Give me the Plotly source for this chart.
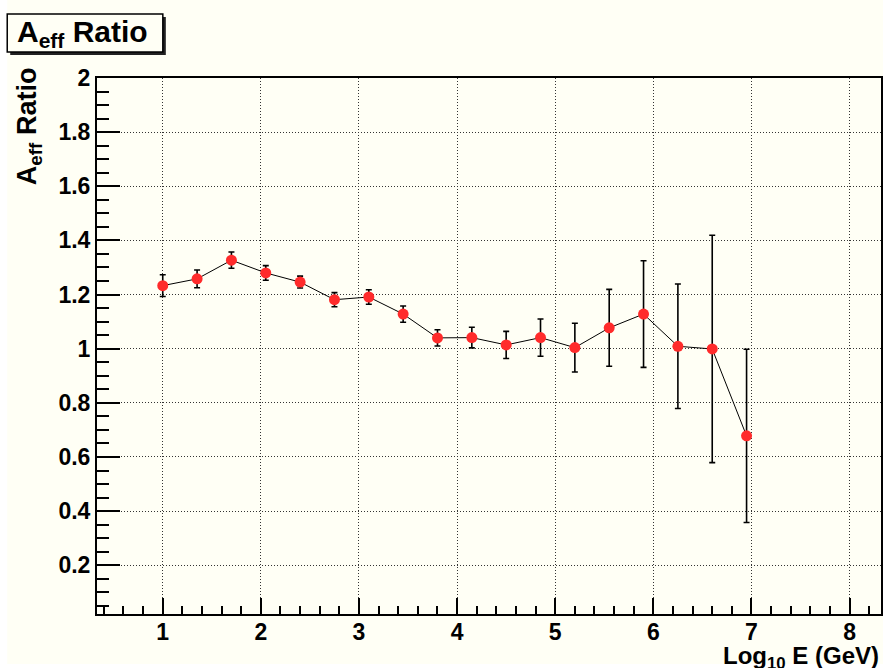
import plotly.graph_objects as go

# Effective-area ratio versus log10 of energy
log_e = [1.0, 1.35, 1.7, 2.05, 2.4, 2.75, 3.1, 3.45, 3.8, 4.15, 4.5, 4.85,
         5.2, 5.55, 5.9, 6.25, 6.6, 6.95]
ratio = [1.233, 1.258, 1.327, 1.280, 1.246, 1.181, 1.191, 1.128, 1.040, 1.041,
         1.014, 1.041, 1.004, 1.077, 1.128, 1.009, 0.999, 0.678]
ratio_err = [0.040, 0.033, 0.030, 0.027, 0.022, 0.026, 0.027, 0.030, 0.030, 0.038,
             0.050, 0.069, 0.090, 0.142, 0.197, 0.230, 0.420, 0.320]

x_tickvals = [1, 2, 3, 4, 5, 6, 7, 8]
x_ticktext = ["1", "2", "3", "4", "5", "6", "7", "8"]
y_tickvals = [0.2, 0.4, 0.6, 0.8, 1.0, 1.2, 1.4, 1.6, 1.8, 2.0]
y_ticktext = ["0.2", "0.4", "0.6", "0.8", "1", "1.2", "1.4", "1.6", "1.8", "2"]

title_text = "A<sub>eff</sub> Ratio"
x_title = "Log<sub>10</sub> E (GeV)"
y_title = "A<sub>eff</sub> Ratio"

CREAM = "#fffff5"
FONT = "Liberation Sans"

# frame geometry in pixels
W_PX, H_PX = 885, 668
L, R, T, B = 97, 883, 78, 614
PW, PH = R - L, B - T


def px_x(p):
    return (p - L) / PW


def px_y(p):
    return (B - p) / PH


fig = go.Figure()
fig.add_trace(go.Scatter(
    x=log_e, y=ratio,
    mode="lines+markers",
    line=dict(color="black", width=1),
    marker=dict(color="#ff2b2b", size=11, line=dict(width=0)),
    error_y=dict(type="data", array=ratio_err, visible=True,
                 color="black", thickness=1.6, width=3),
    showlegend=False,
    cliponaxis=False,
))

axis_common = dict(
    showline=True, linecolor="black", linewidth=2, mirror=True,
    ticks="inside", tickcolor="black", tickwidth=1.5,
    showgrid=True, gridcolor="#333333", gridwidth=1, griddash="1px,2px",
    zeroline=False,
    tickfont=dict(family=FONT, size=23, color="black", weight="bold"),
)

fig.update_xaxes(
    range=[0.33, 8.32], tickmode="array",
    tickvals=x_tickvals, ticktext=x_ticktext, ticklen=16,
    ticklabelstandoff=-4,
    minor=dict(dtick=0.2, tick0=0, ticks="inside", ticklen=8,
               tickcolor="black", tickwidth=1.5, showgrid=False),
    **axis_common,
)
fig.update_yaxes(
    range=[0.02, 2.0], tickmode="array",
    tickvals=y_tickvals, ticktext=y_ticktext, ticklen=23,
    minor=dict(dtick=0.05, tick0=0, ticks="inside", ticklen=12,
               tickcolor="black", tickwidth=1.5, showgrid=False),
    **axis_common,
)

shapes = [
    # canvas fill with a thin white rim on the left and bottom
    dict(type="rect", xref="paper", yref="paper", layer="below",
         x0=px_x(7), x1=px_x(W_PX), y0=px_y(664), y1=px_y(0),
         fillcolor=CREAM, line=dict(width=0)),
    # title box shadow
    dict(type="rect", xref="paper", yref="paper", layer="above",
         x0=px_x(10), x1=px_x(166), y0=px_y(55), y1=px_y(17),
         fillcolor="#222222", line=dict(width=0)),
    # title box
    dict(type="rect", xref="paper", yref="paper", layer="above",
         x0=px_x(7), x1=px_x(163), y0=px_y(52), y1=px_y(14),
         fillcolor=CREAM, line=dict(color="black", width=1.5)),
]

annotations = [
    dict(text=title_text, xref="paper", yref="paper",
         x=px_x(15), y=px_y(33), xanchor="left", yanchor="middle",
         showarrow=False,
         font=dict(family=FONT, size=30, color="black", weight="bold")),
    dict(text=x_title, xref="paper", yref="paper",
         x=px_x(883), y=px_y(640), xanchor="right", yanchor="top",
         showarrow=False,
         font=dict(family=FONT, size=24, color="black", weight="bold")),
    dict(text=y_title, xref="paper", yref="paper", textangle=-90,
         x=px_x(29), y=px_y(65), xanchor="center", yanchor="top",
         showarrow=False,
         font=dict(family=FONT, size=27, color="black", weight="bold")),
]

fig.update_layout(
    width=W_PX, height=H_PX,
    margin=dict(l=L, r=W_PX - R, t=T, b=H_PX - B, pad=0),
    paper_bgcolor="white", plot_bgcolor=CREAM,
    shapes=shapes, annotations=annotations,
)

fig.write_html("out.html")
